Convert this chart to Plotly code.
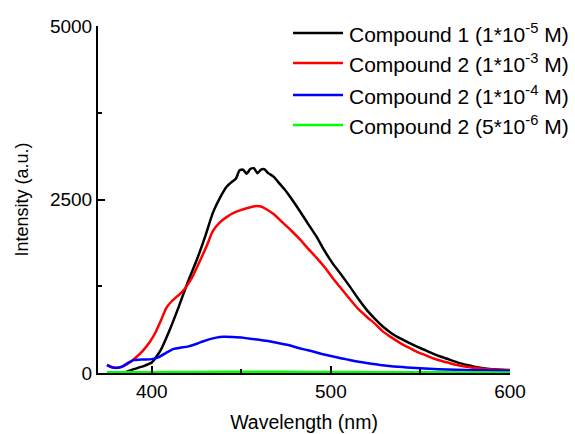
import plotly.graph_objects as go

# ---- data ----
wl_c1 = [375, 380, 385, 390, 395, 400, 405, 410, 415, 420, 425, 430, 434, 438, 442, 445, 447, 449, 451, 453,
         455, 457, 459, 461, 463, 465, 468, 471, 474, 478, 483, 487, 492, 496, 501, 506, 511, 515, 520, 525,
         529, 534, 539, 544, 548, 553, 557, 562, 567, 571, 576, 580, 585, 590, 595, 600]
int_c1 = [0, 0, 10, 55, 95, 150, 330, 620, 950, 1300, 1620, 1980, 2300, 2520, 2690, 2760, 2800, 2920, 2930, 2870,
          2940, 2950, 2880, 2930, 2935, 2880, 2830, 2740, 2650, 2510, 2320, 2160, 1965, 1780, 1580, 1410, 1230, 1080, 910, 770,
          670, 570, 495, 430, 380, 325, 280, 230, 185, 150, 115, 90, 68, 55, 47, 43]

wl_c2a = [375, 378, 381, 384, 387, 391, 395, 399, 402, 405, 408, 411, 414, 417, 420, 423, 427, 431, 434, 438,
          442, 446, 450, 454, 458, 461, 464, 468, 473, 478, 483, 487, 492, 497, 501, 506, 511, 515, 520, 525,
          529, 534, 539, 544, 548, 553, 557, 562, 567, 571, 576, 580, 585, 590, 595, 600]
int_c2a = [115, 85, 75, 95, 140, 220, 320, 450, 580, 750, 930, 1030, 1100, 1170, 1270, 1400, 1620, 1850, 2040, 2170,
           2250, 2310, 2350, 2380, 2405, 2400, 2360, 2290, 2170, 2050, 1917, 1800, 1660, 1510, 1370, 1210, 1052, 930, 811, 700,
           600, 510, 428, 360, 305, 255, 212, 172, 138, 112, 90, 74, 60, 50, 45, 40]

wl_c2b = [375, 378, 381, 384, 387, 390, 395, 400, 404, 408, 412, 416, 420, 424, 428, 432, 436, 440, 445, 450,
          455, 460, 465, 470, 475, 480, 485, 490, 495, 500, 505, 510, 515, 520, 525, 530, 535, 540, 545, 550,
          555, 560, 570, 580, 590, 600]
int_c2b = [115, 80, 75, 100, 150, 185, 195, 200, 230, 290, 345, 365, 380, 410, 450, 485, 510, 522, 520, 510,
           495, 480, 460, 435, 410, 375, 340, 310, 275, 245, 215, 190, 165, 145, 125, 108, 95, 85, 75, 67,
           60, 55, 47, 40, 36, 33]

wl_c2c = [375, 400, 425, 450, 475, 500, 525, 550, 575, 600]
int_c2c = [10, 12, 15, 18, 17, 15, 12, 10, 9, 8]

names = ["Compound 1 (1*10<sup>-5</sup> M)", "Compound 2 (1*10<sup>-3</sup> M)",
         "Compound 2 (1*10<sup>-4</sup> M)", "Compound 2 (5*10<sup>-6</sup> M)"]
colors = ["#000000", "#ff0000", "#0000ff", "#00ff00"]

x_ticks = [400, 500, 600]
y_ticks = [0, 2500, 5000]

FONT = "Liberation Sans, Arial, sans-serif"

fig = go.Figure()
series = [(wl_c1, int_c1), (wl_c2a, int_c2a), (wl_c2b, int_c2b), (wl_c2c, int_c2c)]
for (xs, ys), nm, col in zip(series, names, colors):
    fig.add_trace(go.Scatter(x=xs, y=ys, mode="lines", name=nm,
                             line=dict(color=col, width=2.5, shape="spline", smoothing=0.5),
                             showlegend=False))

L, R, T, B = 98, 65, 26, 61
W, H = 575, 434
pw, ph = W - L - R, H - T - B

def px_to_paper(px, py):
    return (px - L) / pw, (H - B - py) / ph

# manual legend
rows_y = [33, 63, 95, 125]
for nm, col, ry in zip(names, colors, rows_y):
    x0, y0 = px_to_paper(293, ry)
    x1, _ = px_to_paper(343, ry)
    fig.add_shape(type="line", xref="paper", yref="paper", x0=x0, x1=x1, y0=y0, y1=y0,
                  line=dict(color=col, width=2.5))
    tx, ty = px_to_paper(347, ry)
    fig.add_annotation(xref="paper", yref="paper", x=tx, y=ty, text=nm, showarrow=False,
                       xanchor="left", yanchor="middle", font=dict(family=FONT, size=21, color="black"))

axis_common = dict(showline=True, linecolor="black", linewidth=2, showgrid=False, zeroline=False,
                   ticks="inside", ticklen=7, tickwidth=2, tickcolor="black",
                   tickfont=dict(family=FONT, size=19, color="black"))

fig.update_xaxes(range=[370, 600], tickvals=x_ticks, ticktext=[str(v) for v in x_ticks],
                 minor=dict(ticks="inside", ticklen=4, tickwidth=2, tickcolor="black", tickvals=[450, 550]),
                 title=dict(text="Wavelength (nm)", font=dict(family=FONT, size=19.5, color="black"), standoff=15),
                 **axis_common)
fig.update_yaxes(range=[0, 5000], tickvals=y_ticks, ticktext=[str(v) for v in y_ticks],
                 minor=dict(ticks="inside", ticklen=4, tickwidth=2, tickcolor="black", tickvals=[1250, 3750]),
                 title=dict(text="Intensity (a.u.)", font=dict(family=FONT, size=18, color="black"), standoff=17),
                 **axis_common)

fig.update_layout(width=W, height=H, margin=dict(l=L, r=R, t=T, b=B, autoexpand=False),
                  paper_bgcolor="white", plot_bgcolor="white", showlegend=False)

fig.write_html("out.html")
